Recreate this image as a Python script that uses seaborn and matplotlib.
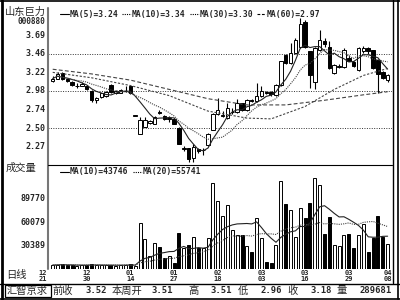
import numpy as np
import pandas as pd
import matplotlib
matplotlib.use("Agg")
import matplotlib.pyplot as plt
import seaborn as sns
from matplotlib.transforms import blended_transform_factory as btf
from matplotlib.patches import Rectangle
from matplotlib.lines import Line2D

sns.set_style("white")
plt.rcParams['font.family'] = ['DejaVu Sans Mono', 'Noto Sans CJK SC']

# ---------------- data ----------------
day_index = list(range(2, 72))
opens = [3.11, 3.14, 3.21, 3.13, 3.10, 3.04, 3.05, 3.05, 2.98, 2.86,
         2.90, 2.91, 3.06, 2.95, 2.96, 2.98, 3.04, 2.66, 2.43, 2.52,
         2.57, 2.56, 2.71, 2.66, 2.62, 2.62, 2.50, 2.23, 2.24, 2.11,
         2.23, 2.22, 2.28, 2.48, 2.68, 2.66, 2.63, 2.71, 2.71, 2.82,
         2.73, 2.86, 2.85, 2.91, 2.97, 2.97, 2.93, 3.06, 3.44, 3.34,
         3.47, 3.55, 3.87, 3.49, 3.10, 3.51, 3.62, 3.55, 3.21, 3.29,
         3.29, 3.40, 3.35, 3.25, 3.49, 3.53, 3.51, 3.38, 3.22, 3.12]
highs = [3.17, 3.22, 3.22, 3.14, 3.11, 3.08, 3.09, 3.06, 2.99, 2.90,
         2.96, 2.98, 3.07, 2.99, 3.00, 3.05, 3.05, 2.66, 2.64, 2.65,
         2.61, 2.66, 2.73, 2.67, 2.66, 2.63, 2.51, 2.27, 2.25, 2.30,
         2.25, 2.25, 2.44, 2.69, 2.89, 2.72, 2.83, 2.76, 2.87, 2.83,
         2.87, 2.87, 3.08, 3.04, 2.98, 2.98, 3.07, 3.37, 3.46, 3.60,
         3.66, 3.92, 3.90, 3.50, 3.55, 3.77, 3.66, 3.62, 3.33, 3.33,
         3.53, 3.45, 3.36, 3.55, 3.56, 3.55, 3.51, 3.39, 3.24, 3.20]
lows = [3.10, 3.13, 3.12, 3.10, 3.05, 3.02, 3.04, 2.99, 2.84, 2.83,
        2.89, 2.90, 2.96, 2.94, 2.95, 2.97, 2.94, 2.66, 2.42, 2.51,
        2.55, 2.55, 2.68, 2.61, 2.58, 2.55, 2.29, 2.21, 2.07, 2.06,
        2.18, 2.15, 2.27, 2.47, 2.67, 2.64, 2.62, 2.68, 2.70, 2.72,
        2.72, 2.84, 2.84, 2.90, 2.94, 2.92, 2.92, 3.05, 3.33, 3.33,
        3.46, 3.54, 3.54, 3.02, 3.01, 3.50, 3.55, 3.26, 3.20, 3.27,
        3.28, 3.36, 3.29, 3.24, 3.47, 3.46, 3.26, 2.96, 3.14, 3.10]
closes = [3.14, 3.20, 3.13, 3.11, 3.06, 3.05, 3.07, 3.00, 2.86, 2.89,
          2.95, 2.97, 2.97, 2.98, 2.99, 2.985, 2.95, 2.66, 2.61, 2.60,
          2.59, 2.65, 2.70, 2.62, 2.63, 2.56, 2.30, 2.25, 2.10, 2.26,
          2.21, 2.22, 2.43, 2.68, 2.73, 2.665, 2.76, 2.71, 2.82, 2.73,
          2.86, 2.85, 2.91, 2.98, 2.95, 2.94, 3.06, 3.36, 3.34, 3.47,
          3.64, 3.85, 3.55, 3.19, 3.53, 3.64, 3.58, 3.27, 3.32, 3.30,
          3.51, 3.37, 3.30, 3.53, 3.53, 3.50, 3.28, 3.20, 3.15, 3.18]
volumes = [5000, 5500, 6000, 4500, 5000, 4000, 4500, 5000, 6500, 5000,
           4500, 4800, 5200, 4200, 4500, 5500, 6000, 3500, 59000, 38500,
           16700, 33700, 28600, 14000, 16700, 8000, 46500, 27000, 30800, 41000,
           27000, 27000, 39700, 110600, 87400, 68200, 82000, 50000, 43600, 43600,
           29900, 21400, 65800, 39300, 9400, 8000, 30800, 112800, 83000, 75600,
           41400, 77800, 65000, 84200, 117000, 107700, 44900, 67000, 30800, 30000,
           43600, 44900, 27300, 43600, 57300, 22200, 39300, 68000, 41400, 32000]

ma30_index = [2, 10, 18, 26, 34, 42, 47, 54, 60, 66, 71]
ma30_values = [3.22, 3.15, 3.05, 2.92, 2.72, 2.63, 2.62, 2.78, 3.00, 3.18, 3.27]
ma60_index = [2, 10, 18, 26, 34, 42, 50, 58, 66, 71]
ma60_values = [3.26, 3.20, 3.12, 3.00, 2.88, 2.80, 2.80, 2.86, 2.93, 2.97]

date_index = [0, 9, 18, 27, 36, 45, 54, 63, 71]
date_labels = ["12\n21", "12\n30", "01\n14", "01\n27", "02\n18",
               "03\n03", "03\n16", "03\n29", "04\n08"]
price_ticks = [3.69, 3.46, 3.22, 2.98, 2.74, 2.50, 2.27]
price_grid = [3.46, 2.98, 2.50]
vol_ticks = [89770, 60079, 30389]

df = pd.DataFrame({"i": day_index, "o": opens, "h": highs, "l": lows,
                   "c": closes, "v": volumes})
df["up"] = df["c"] >= df["o"]
df["ma5"] = df["c"].rolling(5, min_periods=1).mean()
df["ma10"] = df["c"].rolling(10, min_periods=1).mean()
df["vma10"] = df["v"].rolling(10, min_periods=1).mean()
df["vma20"] = df["v"].rolling(20, min_periods=1).mean()

# ---------------- figure ----------------
W, H = 400, 300
fig = plt.figure(figsize=(4, 3), dpi=100)
fig.patch.set_facecolor("white")

def fx(px):
    return px / W

def fy(py):
    return 1 - py / H

L, R = 48, 392
ax = fig.add_axes([fx(L), fy(165), fx(R - L), (165 - 8) / H])
axv = fig.add_axes([fx(L), fy(269), fx(R - L), (269 - 165) / H])

XMIN, XMAX = 1.03, 71.9
for a in (ax, axv):
    a.set_xlim(XMIN, XMAX)
    a.set_facecolor("white")
    for s in a.spines.values():
        s.set_visible(False)
    a.set_xticks([])
    a.set_yticks([])

ax.set_ylim(2.025, 4.05)
axv.set_ylim(0, 133000)

# grid lines
for g in price_grid:
    ax.axhline(g, color="#333333", lw=0.7, ls=(0, (1, 1.5)), zorder=1)

# candles
bw = 0.72
for _, r in df.iterrows():
    ax.vlines(r.i, r.l, r.h, color="black", lw=0.8, zorder=2)
    lo, hi = min(r.o, r.c), max(r.o, r.c)
    ht = max(hi - lo, 0.004)
    ax.bar(r.i, ht, bottom=lo, width=bw,
           facecolor="white" if r.up else "black",
           edgecolor="black", lw=0.7, zorder=3)

# moving averages
sns.lineplot(data=df, x="i", y="ma5", ax=ax, color="#222222", lw=0.8, zorder=4)
sns.lineplot(data=df, x="i", y="ma10", ax=ax, color="#444444", lw=0.8,
             ls=(0, (1, 1)), zorder=4)
sns.lineplot(x=ma30_index, y=ma30_values, ax=ax, color="#444444", lw=0.8,
             ls=(0, (2, 1.5)), zorder=4)
sns.lineplot(x=ma60_index, y=ma60_values, ax=ax, color="#444444", lw=0.8,
             ls=(0, (3.5, 2)), zorder=4)

# volume bars
for _, r in df.iterrows():
    axv.bar(r.i, r.v, width=0.62, facecolor="white" if r.up else "black",
            edgecolor="black", lw=0.7, zorder=3)
sns.lineplot(data=df, x="i", y="vma10", ax=axv, color="#222222", lw=0.8, zorder=4)
sns.lineplot(data=df, x="i", y="vma20", ax=axv, color="#444444", lw=0.8,
             ls=(0, (1, 1)), zorder=4)
for a in (ax, axv):
    a.set_xlabel("")
    a.set_ylabel("")
    a.set_xlim(XMIN, XMAX)

# ---------------- frame lines ----------------
def hline(py, x0, x1, lw=1.0, color="black"):
    fig.add_artist(Line2D([fx(x0), fx(x1)], [fy(py), fy(py)], color=color, lw=lw))

def vline(px, y0, y1, lw=1.0, color="black"):
    fig.add_artist(Line2D([fx(px), fx(px)], [fy(y0), fy(y1)], color=color, lw=lw))

vline(1.5, 0, 299, lw=2.0)
hline(0.8, 0, 400, lw=1.2)
vline(48, 8, 269, lw=1.5, color="#777777")
hline(165, 48, 392, lw=0.8)
vline(393, 0, 283, lw=1.0)
vline(397.5, 0, 299, lw=1.2)
hline(283.5, 0, 400, lw=1.0)
hline(298.8, 0, 400, lw=1.2)

# ---------------- texts ----------------
CJK = ['Noto Sans CJK SC', 'DejaVu Sans']
MONO = dict(family='DejaVu Sans Mono', fontweight='bold')

fig.text(fx(25.5), fy(12), "山东巨力", family=CJK, fontsize=7.4,
         ha="center", va="center")
fig.text(fx(45), fy(22), "000880", fontsize=5.6, ha="right", va="center", **MONO)

tr_p = btf(fig.transFigure, ax.transData)
for t in price_ticks:
    ax.text(fx(45.5), t, f"{t:.2f}", transform=tr_p, fontsize=6, ha="right",
            va="center", clip_on=False, **MONO)

tr_v = btf(fig.transFigure, axv.transData)
for t in vol_ticks:
    axv.text(fx(45.5), t, f"{t}", transform=tr_v, fontsize=6, ha="right",
             va="center", clip_on=False, **MONO)

# legend lines
legend_y = fy(14)
fig.add_artist(Line2D([fx(60), fx(69)], [legend_y, legend_y], color="black", lw=0.8))
fig.text(fx(70), legend_y, "MA(5)=3.24", fontsize=5.8, va="center", **MONO)
fig.add_artist(Line2D([fx(122), fx(131)], [legend_y, legend_y], color="black",
                      lw=0.8, ls=(0, (1, 1))))
fig.text(fx(132), legend_y, "MA(10)=3.34", fontsize=5.8, va="center", **MONO)
fig.add_artist(Line2D([fx(190), fx(199)], [legend_y, legend_y], color="black",
                      lw=0.8, ls=(0, (1, 1))))
fig.text(fx(200), legend_y, "MA(30)=3.30", fontsize=5.8, va="center", **MONO)
fig.add_artist(Line2D([fx(257), fx(266)], [legend_y, legend_y], color="black",
                      lw=0.8, ls=(0, (2.5, 1.5))))
fig.text(fx(267), legend_y, "MA(60)=2.97", fontsize=5.8, va="center", **MONO)

fig.text(fx(21), fy(168), "成交量", family=CJK, fontsize=7.4,
         ha="center", va="center")
vleg_y = fy(171.5)
fig.add_artist(Line2D([fx(60), fx(69)], [vleg_y, vleg_y], color="black", lw=0.8))
fig.text(fx(70), vleg_y, "MA(10)=43746", fontsize=5.8, va="center", **MONO)
fig.add_artist(Line2D([fx(133), fx(142)], [vleg_y, vleg_y], color="black",
                      lw=0.8, ls=(0, (1, 1))))
fig.text(fx(143), vleg_y, "MA(20)=55741", fontsize=5.8, va="center", **MONO)

fig.text(fx(16), fy(275), "日线", family=CJK, fontsize=7.4,
         ha="center", va="center")
tr_d = btf(axv.transData, fig.transFigure)
for i, lab in zip(date_index, date_labels):
    m, d = lab.split("\n")
    axv.text(i, fy(273), m, transform=tr_d, fontsize=5, ha="center",
             va="center", clip_on=False, **MONO)
    axv.text(i, fy(279), d, transform=tr_d, fontsize=5, ha="center",
             va="center", clip_on=False, **MONO)

# bottom info bar
fig.add_artist(Rectangle((fx(4.5), fy(297)), fx(46), (297 - 284.5) / H,
                         fill=False, ec="black", lw=0.9))
by = fy(290.5)
items = [(27.5, "汇智京求", "c", True), (63, "前收", "c", True),
         (107, "3.52", "r", False), (127, "本周开", "c", True),
         (173, "3.51", "r", False), (194, "高", "c", True),
         (232, "3.51", "r", False), (243, "低", "c", True),
         (282, "2.96", "r", False), (292, "收", "c", True),
         (332, "3.18", "r", False), (342, "量", "c", True),
         (392, "289681", "r", False)]
for x, s, al, cjk in items:
    ha = "center" if al == "c" else "right"
    if cjk:
        fig.text(fx(x), by, s, family=CJK, fontsize=7.4, ha=ha, va="center")
    else:
        fig.text(fx(x), by, s, fontsize=6.4, ha=ha, va="center", **MONO)

fig.savefig("out.png", dpi=100, facecolor="white")
